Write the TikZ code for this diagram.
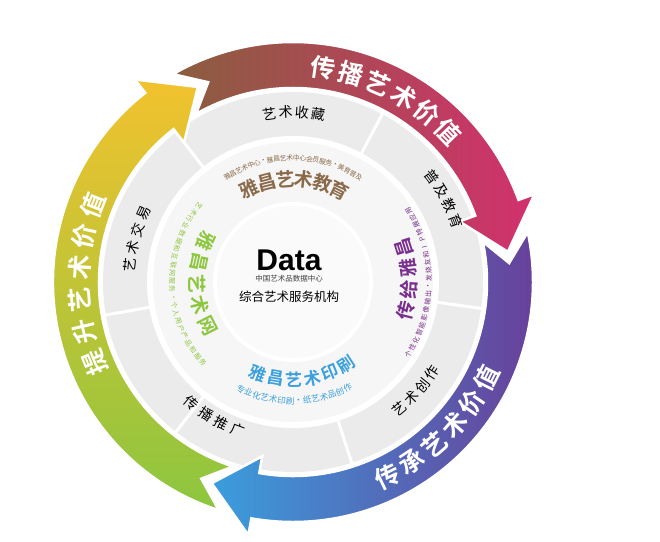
\documentclass[tikz,border=0pt]{standalone}
\usepackage{fontspec}
\setmainfont{Noto Sans CJK SC}
\newfontfamily\cjkb{Noto Sans CJK SC Bold}
\usetikzlibrary{calc}
\definecolor{cbrown}{HTML}{8A5E3E}
\definecolor{cmag}{HTML}{D2306E}
\definecolor{cpur}{HTML}{6A3D98}
\definecolor{cblue}{HTML}{3A9EDD}
\definecolor{cgreen}{HTML}{8CC63F}
\definecolor{cyel}{HTML}{F2C22E}
\definecolor{ringgray}{HTML}{EBEBEB}
\definecolor{tbrown}{HTML}{8A6A4A}
\definecolor{tpur}{HTML}{7A2E8E}
\definecolor{tgreen}{HTML}{8DC63F}
\definecolor{tblue}{HTML}{3BA0DC}
\newcommand\arcchars[6]{%
  \foreach \c [count=\i from 0] in {#6} {%
    \pgfmathsetmacro\ang{#2+\i*(#3)}%
    \node[inner sep=0pt, rotate={\ang+(#4)}, font=#5] at (\ang:#1) {\c};
  }}
\tikzset{arrowshape/.style={draw=white, line width=2.5pt, line join=miter}}
\begin{document}
\begin{tikzpicture}[x=1pt,y=1pt]
\useasboundingbox (-293,-259) rectangle (367,282);
% rings
\fill[ringgray] (0,0) circle (190);
\fill[white] (0,0) circle (146);
\fill[gray!7] (0,0) circle (140);
\fill[white] (0,0) circle (80);
\fill[gray!4] (0,0) circle (76);
\foreach \a in {128,62,-8,-72,-128,190} \draw[white, line width=3pt] (\a:143) -- (\a:192);
% arrows
\shade[arrowshape, left color=cbrown, right color=cmag]
  (120:240) arc[start angle=120, end angle=20, radius=240] -- (20:257) -- (8:217) -- (20:177) -- (20:194)
  arc[start angle=20, end angle=120, radius=194] -- (113:217) -- cycle;
\shade[arrowshape, left color=cblue, right color=cpur]
  (12:240) arc[start angle=12, end angle=-100, radius=240] -- (-100:257) -- (-112:217) -- (-100:177) -- (-100:194)
  arc[start angle=-100, end angle=12, radius=194] -- (5:217) -- cycle;
\shade[arrowshape, bottom color=cgreen, top color=cyel]
  (-108:240) arc[start angle=-108, end angle=-232, radius=240] -- (-232:257) -- (-244:217) -- (-232:177) -- (-232:194)
  arc[start angle=-232, end angle=-108, radius=194] -- (-115:217) -- cycle;
% arrow labels
\arcchars{216}{82}{-7.6}{-90}{\cjkb\fontsize{25}{25}\selectfont\color{white}}{传,播,艺,术,价,值}
\arcchars{216}{-64}{7.5}{90}{\cjkb\fontsize{25}{25}\selectfont\color{white}}{传,承,艺,术,价,值}
\arcchars{214}{202}{-8.6}{-90}{\cjkb\fontsize{25}{25}\selectfont\color{white}}{提,升,艺,术,价,值}
% gray ring labels
\arcchars{170}{98}{-5.5}{-90}{\fontsize{14}{14}\selectfont}{艺,术,收,藏}
\arcchars{174}{37}{-5.5}{-90}{\fontsize{14}{14}\selectfont}{普,及,教,育}
\arcchars{166}{-50}{5.6}{90}{\fontsize{14}{14}\selectfont}{艺,术,创,作}
\arcchars{158}{-130}{6.5}{90}{\fontsize{14}{14}\selectfont}{传,播,推,广}
\arcchars{164}{174}{-6.3}{-90}{\fontsize{14}{14}\selectfont}{艺,术,交,易}
% inner labels
\arcchars{103}{115}{-10.4}{-90}{\cjkb\fontsize{19}{19}\selectfont\color{tbrown}}{雅,昌,艺,术,教,育}
\arcchars{124}{122}{-3.05}{-90}{\fontsize{6.8}{7}\selectfont\color{tbrown}}{雅,昌,艺,术,中,心,·,雅,昌,艺,术,中,心,会,员,服,务,·,美,育,普,及}
\arcchars{116}{-14}{10.5}{90}{\cjkb\fontsize{19}{19}\selectfont\color{tpur}}{传,给,雅,昌}
\arcchars{136}{-32}{3.35}{90}{\fontsize{6.8}{7}\selectfont\color{tpur}}{个,性,化,智,能,影,像,输,出,·,发,烧,友,和,I,P,特,展,应,用}
\arcchars{96}{155}{13}{90}{\cjkb\fontsize{19}{19}\selectfont\color{tgreen}}{雅,昌,艺,术,网}
\arcchars{121}{141}{3.85}{90}{\fontsize{6.8}{7}\selectfont\color{tgreen}}{艺,术,行,业,数,据,和,互,联,网,服,务,·,个,人,用,户,产,品,和,服,务}
\arcchars{98}{-111}{10.8}{90}{\cjkb\fontsize{17}{17}\selectfont\color{tblue}}{雅,昌,艺,术,印,刷}
\arcchars{119}{-116}{4.1}{90}{\fontsize{8.5}{9}\selectfont\color{tblue}}{专,业,化,艺,术,印,刷,·,纸,艺,术,品,创,作}
% center
\node[font=\fontspec{Liberation Sans}\bfseries\fontsize{30}{30}\selectfont] (data) at (-4,22) {Data};
\node[font=\fontsize{7.5}{8}\selectfont, text=black!75] (sub) at (-4,3) {中国艺术品数据中心};
\node[font=\fontsize{12.5}{13}\selectfont] (org) at (-4,-15) {综合艺术服务机构};
\end{tikzpicture}
\end{document}
